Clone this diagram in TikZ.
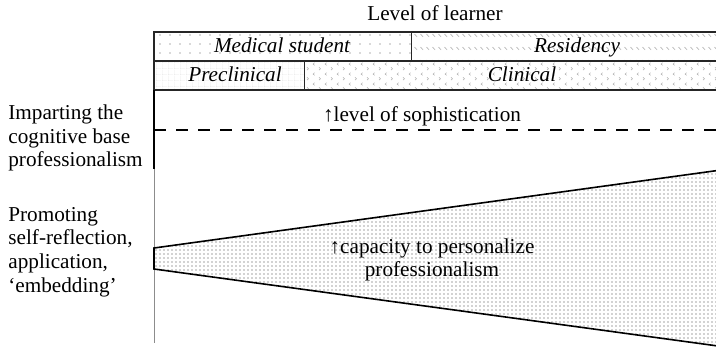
\documentclass[tikz,border=0pt]{standalone}
\usepackage{fontspec}
\setmainfont{Liberation Serif}
\usetikzlibrary{patterns.meta}

% Muster fuer die Kaesten und den Keil
\tikzdeclarepattern{
  name=sparsedots,
  type=uncolored,
  bounding box={(-0.5pt,-0.5pt) and (0.5pt,0.5pt)},
  tile size={(5pt,4.5pt)},
  code={\fill (0pt,0pt) circle (0.45pt);}
}
\tikzdeclarepattern{
  name=shortstrokes,
  type=uncolored,
  bounding box={(0pt,0pt) and (3pt,6.5pt)},
  tile size={(3pt,6.5pt)},
  code={\draw[line width=0.35pt] (0.3pt,2.6pt) -- (1.8pt,1.1pt);}
}
\tikzdeclarepattern{
  name=finegrid,
  type=uncolored,
  bounding box={(0pt,0pt) and (3pt,3pt)},
  tile size={(3pt,3pt)},
  code={\draw[line width=0.2pt] (0pt,3pt) -- (0pt,0pt) -- (3pt,0pt);}
}
\tikzdeclarepattern{
  name=chevrons,
  type=uncolored,
  bounding box={(0pt,0pt) and (6pt,5pt)},
  tile size={(6pt,5pt)},
  code={\draw[line width=0.3pt] (1.4pt,4.4pt) -- (0.6pt,3.7pt) -- (1.4pt,3pt);
        \draw[line width=0.3pt] (3.8pt,1.9pt) -- (4.6pt,1.2pt) -- (3.8pt,0.5pt);}
}
\tikzdeclarepattern{
  name=densedots,
  type=uncolored,
  bounding box={(-0.4pt,-0.4pt) and (0.4pt,0.4pt)},
  tile size={(2pt,2pt)},
  code={\fill (0pt,0pt) circle (0.4pt);}
}

\tikzset{
  label/.style={inner sep=0pt, font=\fontsize{10.6}{11.8}\selectfont},
  boxlabel/.style={label, anchor=base, font=\fontsize{10.6}{11.8}\selectfont\itshape},
  sidelabel/.style={label, anchor=west, align=left},
  boxline/.style={line width=0.7pt, draw=black!85},
}

\begin{document}
\begin{tikzpicture}[x=0.5pt, y=0.5pt]
  \useasboundingbox (0,0) rectangle (716,350);
  % Kaesten oben
  \fill [pattern=sparsedots, pattern color=black!30] (154,289) rectangle (411.5,318);
  \fill [pattern=shortstrokes, pattern color=black!30] (411.5,289) rectangle (745,318);
  \fill [pattern=finegrid, pattern color=black!25] (154,260) rectangle (304.5,289);
  \fill [pattern=chevrons, pattern color=black!30] (304.5,260) rectangle (745,289);
  \draw [boxline] (745,318) -- (154,318) -- (154,260) -- (745,260);
  \draw [boxline] (154,289) -- (745,289);
  \draw [boxline] (411.5,318) -- (411.5,289);
  \draw [boxline] (304.5,289) -- (304.5,260);
  % Beschriftung oben
  \node [label] (title) at (435,337) {Level of learner};
  \node [boxlabel] (medstud) at (282,297.5) {Medical student};
  \node [boxlabel] (resid) at (577,297.5) {Residency};
  \node [boxlabel] (preclin) at (235,268.5) {Preclinical};
  \node [boxlabel] (clin) at (522,268.5) {Clinical};
  % Achse
  \draw [line width=1pt] (154,260) -- (154,181);
  \draw [line width=0.4pt, black!45] (154,181) -- (154,7);
  % gestrichelte Linie
  \draw [line width=1pt, dash pattern=on 6pt off 5pt] (154,220) -- (745,220);
  \node [label] (soph) at (422,234) {↑level of sophistication};
  % Keil
  \coordinate (wtl) at (154,102);
  \coordinate (wbl) at (154,81);
  \coordinate (wtr) at (740,182.6);
  \coordinate (wbr) at (740,1);
  \fill [pattern=densedots, pattern color=black!35] (wtl) -- (wtr) -- (wbr) -- (wbl) -- cycle;
  \draw [line width=0.8pt] (wtr) -- (wtl) -- (wbl) -- (wbr);
  \node [label, align=center] (capacity) at (432,90) {↑capacity to personalize\\professionalism};
  % Beschriftung links
  \node [sidelabel] (impart) at (8,212) {Imparting the\\cognitive base\\professionalism};
  \node [sidelabel] (promote) at (8,98) {Promoting\\self-reflection,\\application,\\‘embedding’};
\end{tikzpicture}
\end{document}
